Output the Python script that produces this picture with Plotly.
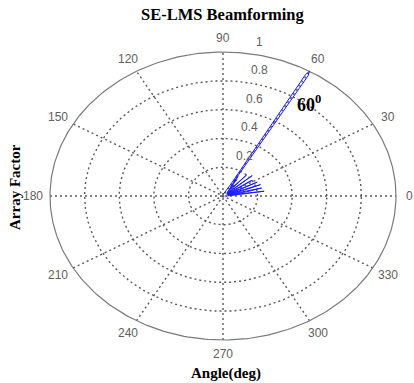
import numpy as np
import plotly.graph_objects as go

# ---- data ----
theta_deg = [0, 3, 6, 8, 10, 12, 14, 16, 18, 20, 22, 24, 26, 28, 30, 33, 36, 38, 40, 42, 44, 47, 49,
             51, 53, 55, 56, 57, 58, 59, 59.5, 60, 60.5, 61, 62, 64, 70, 80, 90]
array_factor = [0.02, 0.04, 0.08, 0.24, 0.03, 0.14, 0.23, 0.04, 0.12, 0.23, 0.03, 0.10, 0.22, 0.03, 0.08,
                0.20, 0.03, 0.08, 0.22, 0.03, 0.06, 0.20, 0.04, 0.10, 0.06, 0.14, 0.08, 0.16, 0.12, 0.30,
                0.97, 1.0, 0.97, 0.10, 0.03, 0.02, 0.01, 0.01, 0.01]

title_text = "SE-LMS Beamforming"
x_label = "Angle(deg)"
y_label = "Array Factor"
annot_text = "60<sup>0</sup>"
annot_angle = 60
annot_r = 0.745

ring_values = [0.2, 0.4, 0.6, 0.8]
ring_labels = ["0.2", "0.4", "0.6", "0.8", "1"]
r_max = 1.0
spoke_angles = [0, 30, 60, 90, 120, 150]
angle_labels = [0, 30, 60, 90, 120, 150, 180, 210, 240, 270, 300, 330]

# ---- style ----
GRID = "#5a5a5a"
LABEL = "#606060"
BLUE = "#1a1aff"

fig = go.Figure()

def pol(r, th_deg):
    t = np.deg2rad(np.asarray(th_deg, dtype=float))
    r = np.asarray(r, dtype=float)
    return r * np.cos(t), r * np.sin(t)

circ = np.linspace(0, 360, 361)

# dotted rings
for rv in ring_values:
    x, y = pol(np.full_like(circ, rv), circ)
    fig.add_trace(go.Scatter(x=x, y=y, mode="lines", hoverinfo="skip",
                             line=dict(color=GRID, width=1.4, dash="2px,3px")))
# spokes
for a in spoke_angles:
    x, y = pol([-r_max, r_max], [a, a])
    fig.add_trace(go.Scatter(x=x, y=y, mode="lines", hoverinfo="skip",
                             line=dict(color=GRID, width=1.4, dash="2px,3px")))
# outer solid circle
x, y = pol(np.full_like(circ, r_max), circ)
fig.add_trace(go.Scatter(x=x, y=y, mode="lines", hoverinfo="skip",
                         line=dict(color="#7a7a7a", width=1.2)))

# data
x, y = pol(array_factor, theta_deg)
fig.add_trace(go.Scatter(x=x, y=y, mode="lines", line=dict(color=BLUE, width=1)))

annotations = []
# angle labels
for a in angle_labels:
    ax, ay = pol(1.1 * r_max, a)
    shift = -4 if a == 0 else 0
    annotations.append(dict(x=float(ax), y=float(ay), text=str(a), showarrow=False, xshift=shift,
                            font=dict(family="Liberation Sans", size=12, color=LABEL),
                            xanchor="center", yanchor="middle"))
# radial labels at 82 deg
for i, lab in enumerate(ring_labels):
    rv = (ring_values + [r_max])[i]
    ax, ay = pol(rv + 0.02, 82)
    annotations.append(dict(x=float(ax), y=float(ay), text=lab, showarrow=False,
                            font=dict(family="Liberation Sans", size=12, color=LABEL),
                            xanchor="left", yanchor="bottom", xshift=6))
# 60 deg annotation
ax, ay = pol(annot_r, annot_angle)
annotations.append(dict(x=float(ax), y=float(ay), text="<b>%s</b>" % annot_text, showarrow=False, xshift=22,
                        font=dict(family="Liberation Serif", size=18, color="black"),
                        xanchor="center", yanchor="middle"))
# title and axis labels
annotations.append(dict(x=0.537, y=1 - 15 / 383, xref="paper", yref="paper", text="<b>%s</b>" % title_text,
                        showarrow=False, font=dict(family="Liberation Serif", size=16.5, color="black"),
                        xanchor="center", yanchor="middle"))
annotations.append(dict(x=0.546, y=1 - 373 / 383, xref="paper", yref="paper", text="<b>%s</b>" % x_label,
                        showarrow=False, font=dict(family="Liberation Serif", size=15, color="black"),
                        xanchor="center", yanchor="middle"))
annotations.append(dict(x=15 / 414, y=1 - 187 / 383, xref="paper", yref="paper", text="<b>%s</b>" % y_label,
                        showarrow=False, textangle=-90,
                        font=dict(family="Liberation Serif", size=15, color="black"),
                        xanchor="center", yanchor="middle"))

# layout: unit circle maps to an ellipse as in the reference
cx, cy, rx, ry = 223.0, 196.0, 173.0, 144.0
W, H = 414, 383
fig.update_layout(
    width=W, height=H, margin=dict(l=0, r=0, t=0, b=0),
    paper_bgcolor="white", plot_bgcolor="white", showlegend=False,
    xaxis=dict(range=[-cx / rx, (W - cx) / rx], visible=False, fixedrange=True),
    yaxis=dict(range=[-(H - cy) / ry, cy / ry], visible=False, fixedrange=True),
    annotations=annotations,
)
fig.write_html("out.html")
